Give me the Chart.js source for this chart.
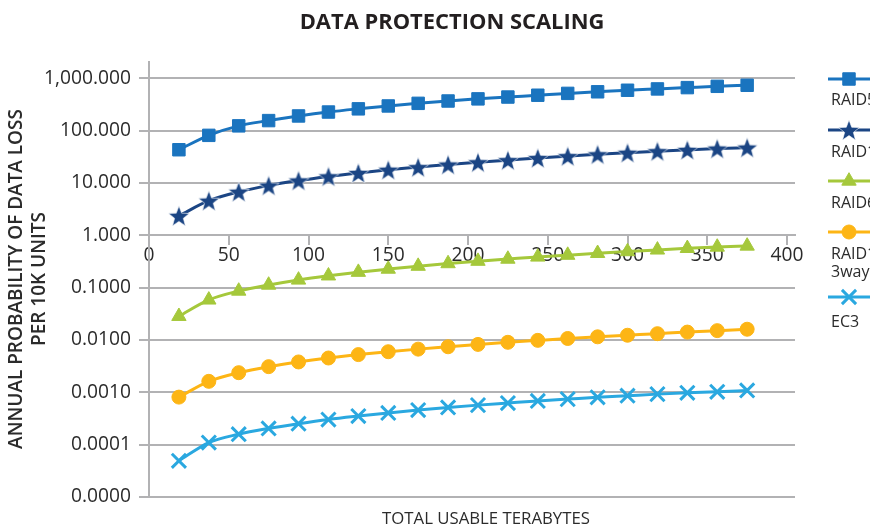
<!DOCTYPE html>
<html><head><meta charset="utf-8">
<script src="https://cdn.jsdelivr.net/npm/chart.js@4/dist/chart.umd.min.js"></script>
<style>html,body{margin:0;padding:0;background:#fff;overflow:hidden}#wrap{width:870px;height:527px;position:relative}</style>
</head><body><div id="wrap"><canvas id="c" width="870" height="527"></canvas></div>
<script>
// ---------- data ----------
const terabytes = [18.75, 37.5, 56.25, 75, 93.75, 112.5, 131.25, 150, 168.75, 187.5, 206.25, 225, 243.75, 262.5, 281.25, 300, 318.75, 337.5, 356.25, 375];
const raid5 = [43, 81, 123, 155, 190, 226, 260, 295, 331, 367, 403, 437, 473, 513, 550, 589, 624, 661, 700, 733];
const raid1 = [2.35, 4.57, 6.76, 8.91, 11.1, 13.3, 15.5, 17.8, 20.0, 22.4, 24.8, 27.2, 29.9, 32.4, 35.1, 37.6, 40.3, 42.7, 45.2, 47.3];
const raid6 = [0.0283, 0.0582, 0.0861, 0.112, 0.140, 0.168, 0.197, 0.226, 0.257, 0.288, 0.320, 0.351, 0.385, 0.417, 0.452, 0.488, 0.525, 0.562, 0.596, 0.624];
const raid1ThreeWay = [0.000809, 0.00162, 0.00237, 0.00309, 0.0038, 0.00452, 0.00525, 0.00596, 0.00668, 0.00741, 0.00822, 0.00902, 0.00982, 0.01067, 0.01148, 0.0123, 0.01318, 0.01413, 0.01507, 0.01603];
const ec3 = [0.0000492, 0.0001096, 0.0001585, 0.000204, 0.000251, 0.000302, 0.000351, 0.000403, 0.000457, 0.000513, 0.000569, 0.000624, 0.000684, 0.000741, 0.000804, 0.000861, 0.000923, 0.000977, 0.001023, 0.001084];
const seriesNames = ['RAID5', 'RAID1', 'RAID6', ['RAID1', '3way'], 'EC3'];
const yTickValues = [0.00001, 0.0001, 0.001, 0.01, 0.1, 1, 10, 100, 1000];
const xTickValues = [0, 50, 100, 150, 200, 250, 300, 350, 400];
const chartTitle = 'DATA PROTECTION SCALING';
const yTitleLines = ['ANNUAL PROBABILITY OF DATA LOSS', 'PER 10K UNITS'];
const xTitle = 'TOTAL USABLE TERABYTES';

// ---------- styling ----------
const FAM = "'Open Sans', 'Noto Sans', sans-serif";
const colors = ['#1a74bf', '#1b4584', '#a5c83b', '#fdb515', '#2aa8e0'];
const gridColor = '#b2b2b4';
const textColor = '#2b2b2b';
const mctx = document.createElement('canvas').getContext('2d');
function fitSize(text, weight, target) {
  mctx.font = weight + ' 100px ' + FAM;
  return 100 * target / mctx.measureText(text).width;
}
const tickSize = fitSize('1,000.000', '400', 87);
const titleSize = fitSize(chartTitle, '700', 305);
const yTitleSize = fitSize(yTitleLines[0], '600', 340);
const xTitleSize = fitSize(xTitle, '400', 208);
const legendSize = 16;

function starImage(color, R, r) {
  const s = Math.ceil(R * 2 + 4);
  const cv = document.createElement('canvas');
  cv.width = cv.height = s;
  const g = cv.getContext('2d');
  g.translate(s / 2, s / 2 + 1);
  g.beginPath();
  for (let i = 0; i < 10; i++) {
    const rad = i % 2 === 0 ? R : r;
    const a = -Math.PI / 2 + i * Math.PI / 5;
    const px = Math.cos(a) * rad, py = Math.sin(a) * rad;
    if (i === 0) g.moveTo(px, py); else g.lineTo(px, py);
  }
  g.closePath();
  g.fillStyle = color;
  g.fill();
  g.lineWidth = 1;
  g.strokeStyle = 'rgba(255,255,255,0.6)';
  g.stroke();
  return cv;
}
const star = starImage(colors[1], 11, 4.6);

const markerStyles = [
  { pointStyle: 'rect', radius: 8.8, borderWidth: 1 },
  { pointStyle: star, radius: 10, borderWidth: 0 },
  { pointStyle: 'triangle', radius: 8.3, borderWidth: 1 },
  { pointStyle: 'circle', radius: 7, borderWidth: 1 },
  { pointStyle: 'crossRot', radius: 10, borderWidth: 3 }
];
const seriesValues = [raid5, raid1, raid6, raid1ThreeWay, ec3];

const datasets = seriesValues.map((vals, i) => ({
  label: Array.isArray(seriesNames[i]) ? seriesNames[i].join(' ') : seriesNames[i],
  data: terabytes.map((x, k) => ({ x: x, y: vals[k] })),
  borderColor: colors[i],
  backgroundColor: colors[i],
  borderWidth: 3,
  cubicInterpolationMode: 'monotone',
  pointStyle: markerStyles[i].pointStyle,
  pointRadius: markerStyles[i].radius,
  pointBorderWidth: markerStyles[i].borderWidth,
  pointBorderColor: colors[i],
  pointBackgroundColor: colors[i],
  pointHoverRadius: markerStyles[i].radius
}));

const decorPlugin = {
  id: 'decor',
  afterDraw(chart) {
    const ctx = chart.ctx;
    ctx.save();
    ctx.fillStyle = '#231f20';
    ctx.textAlign = 'center';
    ctx.textBaseline = 'middle';
    ctx.font = '700 ' + titleSize + 'px ' + FAM;
    ctx.fillText(chartTitle, 452, 23);
    ctx.font = '400 ' + xTitleSize + 'px ' + FAM;
    ctx.fillStyle = textColor;
    ctx.fillText(xTitle, 486, 519);
    ctx.font = '600 ' + yTitleSize + 'px ' + FAM;
    ctx.save();
    ctx.translate(17, 279);
    ctx.rotate(-Math.PI / 2);
    ctx.fillText(yTitleLines[0], 0, 0);
    ctx.restore();
    ctx.save();
    ctx.translate(40, 279);
    ctx.rotate(-Math.PI / 2);
    ctx.fillText(yTitleLines[1], 0, 0);
    ctx.restore();
    // legend
    const lineYs = [79, 130, 181, 232, 297];
    const textYs = [[100], [152], [203], [254, 272], [322]];
    ctx.textAlign = 'left';
    ctx.font = '400 ' + legendSize + 'px ' + FAM;
    for (let i = 0; i < 5; i++) {
      ctx.strokeStyle = colors[i];
      ctx.lineWidth = 3;
      ctx.beginPath();
      ctx.moveTo(828, lineYs[i]);
      ctx.lineTo(875, lineYs[i]);
      ctx.stroke();
      ctx.fillStyle = colors[i];
      ctx.strokeStyle = colors[i];
      ctx.lineWidth = markerStyles[i].borderWidth || 0.0001;
      Chart.helpers.drawPoint(ctx, { pointStyle: markerStyles[i].pointStyle, radius: markerStyles[i].radius, rotation: 0, borderWidth: markerStyles[i].borderWidth }, 849, lineYs[i]);
      ctx.fillStyle = textColor;
      const lines = Array.isArray(seriesNames[i]) ? seriesNames[i] : [seriesNames[i]];
      lines.forEach((t, j) => ctx.fillText(t, 831, textYs[i][j]));
    }
    ctx.restore();
  }
};

function fmtTick(v) {
  if (v >= 1) return v.toLocaleString('en-US', { minimumFractionDigits: 3, maximumFractionDigits: 3 });
  return v.toFixed(4);
}

new Chart(document.getElementById('c'), {
  type: 'line',
  data: { datasets: datasets },
  plugins: [decorPlugin],
  options: {
    responsive: false,
    animation: false,
    events: [],
    layout: { padding: { top: 62, right: 75, bottom: 30, left: 0 } },
    plugins: { legend: { display: false }, title: { display: false }, tooltip: { enabled: false } },
    scales: {
      x: {
        type: 'linear',
        position: { y: 1 },
        min: 0,
        max: 405,
        afterBuildTicks: s => { s.ticks = xTickValues.map(v => ({ value: v })); },
        grid: { drawOnChartArea: false, drawTicks: true, tickLength: 9, color: gridColor, lineWidth: 2 },
        border: { display: true, color: gridColor, width: 2 },
        ticks: { color: textColor, font: { family: FAM, size: tickSize }, padding: 0, maxRotation: 0, autoSkip: false }
      },
      y: {
        type: 'logarithmic',
        position: 'left',
        min: 0.00001,
        max: 2040,
        afterBuildTicks: s => { s.ticks = yTickValues.map(v => ({ value: v })); },
        afterFit: s => { s.width = 149; },
        grid: { drawTicks: true, tickLength: 10, color: gridColor, lineWidth: 2 },
        border: { display: true, color: gridColor, width: 2 },
        ticks: { color: textColor, font: { family: FAM, size: tickSize }, padding: 8, callback: v => fmtTick(v), autoSkip: false }
      }
    }
  }
});
</script></body></html>
